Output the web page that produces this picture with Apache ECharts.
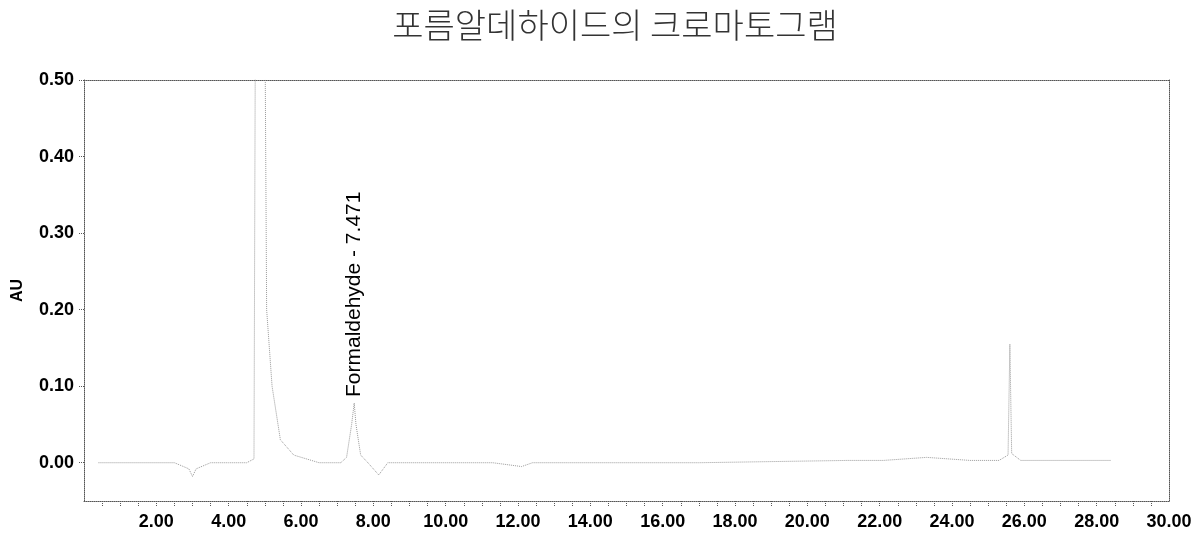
<!DOCTYPE html>
<html><head><meta charset="utf-8">
<script src="https://cdn.jsdelivr.net/npm/echarts@6/dist/echarts.min.js"></script>
<style>html,body{margin:0;padding:0;background:#fff}#c{width:1203px;height:533px}</style>
</head><body><div id="c"></div>
<script>
const chartTitle = '포름알데하이드의 크로마토그램';
const yAxisName = 'AU';
// retention time (min)
const retentionTimes = [0.4, 1.0, 2.0, 2.5, 2.9, 3.0, 3.1, 3.5, 4.0, 4.5, 4.70, 4.74, 4.76, 5.00, 5.05, 5.2, 5.43, 5.8, 6.5, 7.1, 7.26, 7.40, 7.471, 7.52, 7.65, 7.85, 8.15, 8.4, 11.3, 12.1, 12.4, 13.4, 17.0, 21.1, 22.1, 23.3, 24.5, 25.3, 25.55, 25.6, 25.65, 25.9, 27.0, 28.4];
// absorbance (AU)
const absorbance = [0.0, 0.0, 0.0, 0.0, -0.008, -0.018, -0.008, 0.0, 0.0, 0.0, 0.005, 0.6, 0.6, 0.6, 0.2, 0.10, 0.03, 0.01, 0.0, 0.0, 0.007, 0.05, 0.078, 0.05, 0.01, 0.0, -0.016, 0.0, 0.0, -0.005, 0.0, 0.0, 0.0, 0.003, 0.003, 0.007, 0.003, 0.003, 0.01, 0.155, 0.012, 0.003, 0.003, 0.003];
const xTickValues = [2, 4, 6, 8, 10, 12, 14, 16, 18, 20, 22, 24, 26, 28, 30];
const xMinorTicks = [0.5,1,1.5,2,2.5,3,3.5,4,4.5,5,5.5,6,6.5,7,7.5,8,8.5,9,9.5,10,10.5,11,11.5,12,12.5,13,13.5,14,14.5,15,15.5,16,16.5,17,17.5,18,18.5,19,19.5,20,20.5,21,21.5,22,22.5,23,23.5,24,24.5,25,25.5,26,26.5,27,27.5,28,28.5,29,29.5];
const yTickValues = [0, 0.1, 0.2, 0.3, 0.4, 0.5];
const peakName = 'Formaldehyde';
const peakTime = 7.471;
const peakHeight = 0.078;

const chart = echarts.init(document.getElementById('c'), null, {renderer: 'canvas'});
const pts = retentionTimes.map((t, i) => [t, absorbance[i]]);
const frameLine = {show: true, onZero: false, lineStyle: {color: '#555', width: 1, type: 'dotted'}};
chart.setOption({
  animation: false,
  backgroundColor: '#fff',
  title: {
    text: chartTitle, left: 610, textAlign: 'center', top: 3,
    textStyle: {fontFamily: 'Noto Sans CJK KR', fontSize: 34, fontWeight: 300, color: '#333'}
  },
  grid: {left: 84, right: 34, top: 80, bottom: 32},
  xAxis: [{
    type: 'value', min: 0, max: 30,
    axisLine: frameLine,
    axisTick: {show: true, customValues: xMinorTicks, length: 5, lineStyle: {color: '#555', type: 'dotted'}},
    axisLabel: {customValues: xTickValues, margin: 12, formatter: v => v.toFixed(2),
      fontFamily: 'Liberation Sans', fontSize: 18, fontWeight: 'bold', color: '#000'},
    splitLine: {show: false}
  }, {
    type: 'value', position: 'top', min: 0, max: 30,
    axisLine: frameLine, axisTick: {show: false}, axisLabel: {show: false}, splitLine: {show: false}
  }],
  yAxis: [{
    type: 'value', min: -0.05, max: 0.5,
    name: yAxisName, nameLocation: 'middle', nameGap: 58, nameRotate: 90,
    nameTextStyle: {fontFamily: 'Liberation Sans', fontSize: 16, fontWeight: 'bold', color: '#000'},
    axisLine: frameLine,
    axisTick: {show: true, customValues: yTickValues, length: 5, lineStyle: {color: '#555', type: 'dotted'}},
    axisLabel: {customValues: yTickValues, margin: 10, formatter: v => v.toFixed(2),
      fontFamily: 'Liberation Sans', fontSize: 18, fontWeight: 'bold', color: '#000'},
    splitLine: {show: false}
  }, {
    type: 'value', position: 'right', min: -0.05, max: 0.5,
    axisLine: frameLine, axisTick: {show: false}, axisLabel: {show: false}, splitLine: {show: false}
  }],
  series: [{
    type: 'line', data: pts, xAxisIndex: 0, yAxisIndex: 0,
    showSymbol: false, clip: true,
    lineStyle: {color: '#999', width: 1, type: 'dotted'},
    markPoint: {
      symbol: 'circle', symbolSize: 0,
      data: [{coord: [peakTime, peakHeight]}],
      label: {
        show: true, position: 'top', distance: 6, rotate: 90,
        align: 'left', verticalAlign: 'middle',
        formatter: peakName + ' - ' + peakTime.toFixed(3),
        fontFamily: 'Liberation Sans', fontSize: 21, color: '#000'
      }
    }
  }]
});
</script></body></html>
